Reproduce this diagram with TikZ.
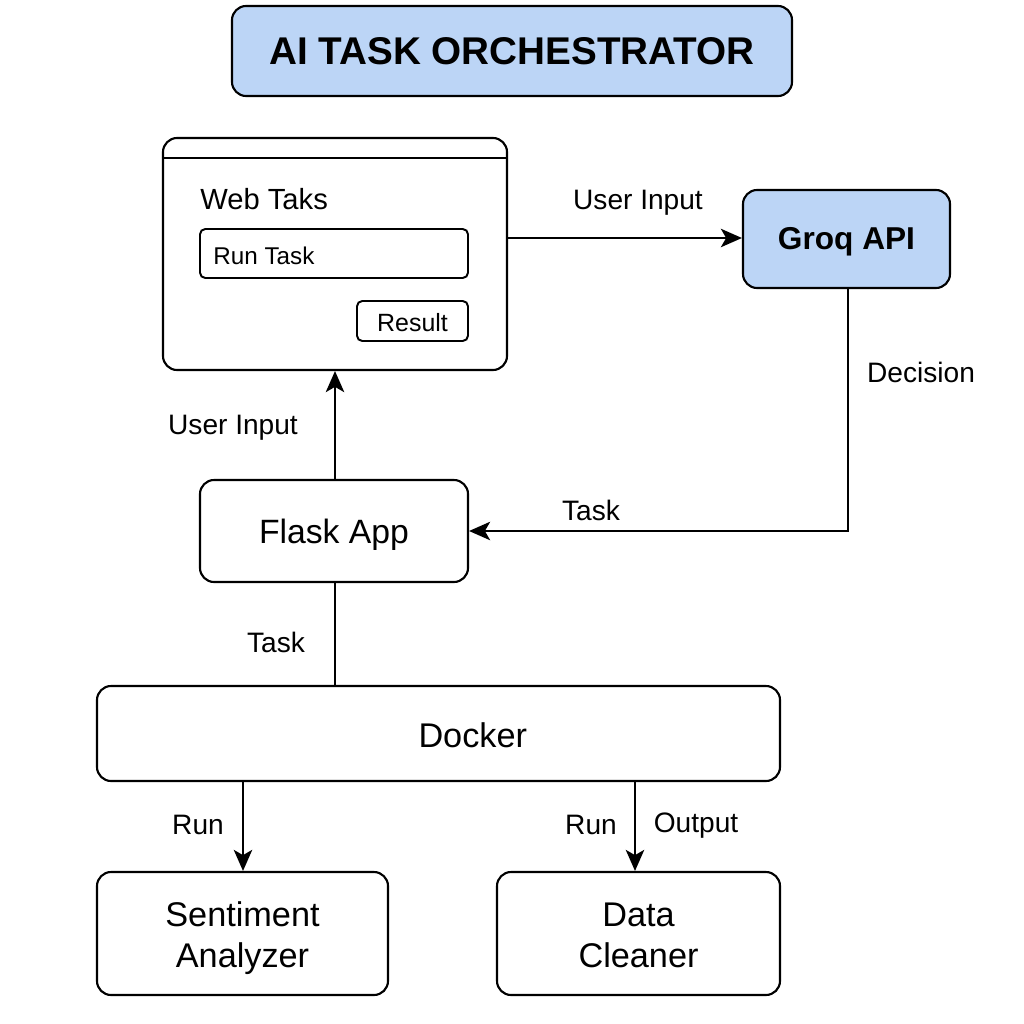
\documentclass[tikz,border=0pt]{standalone}
\usepackage{fontspec}
\setmainfont{Liberation Sans}
\usetikzlibrary{arrows.meta}
\definecolor{lblue}{HTML}{BCD5F6}
\def\u{0.02cm}
\newcommand{\shiftdn}[2]{\raisebox{-#1}[\height][\depth]{#2}}
\newcommand{\twolines}[2]{\shiftdn{3pt}{\setlength{\tabcolsep}{0pt}\begin{tabular}{c}#1\\#2\end{tabular}}}
\begin{document}
\begin{tikzpicture}[x=0.02cm,y=-0.02cm,
  box/.style={draw=black, line width=1.2pt, rounded corners=8pt, inner sep=0pt},
  smallbox/.style={draw=black, line width=1.1pt, rounded corners=3pt, inner sep=0pt},
  lbl/.style={font=\fontsize{16}{18}\selectfont, inner sep=0pt},
  conn/.style={line width=1.1pt},
  arr/.style={line width=1.1pt, -{Stealth[length=12pt,width=10.5pt,inset=3pt]}}]
\useasboundingbox (0,0) rectangle (1024,1024);
\fill[white] (0,0) rectangle (1024,1024);
% title
\node[box, fill=lblue, minimum width=560*\u, minimum height=90*\u, font=\fontsize{22}{26}\bfseries\selectfont] (title) at (512,51) {AI TASK ORCHESTRATOR};
% web
\node[box, minimum width=344*\u, minimum height=232*\u] (web) at (335,254) {};
\draw[line width=1.1pt] ([yshift=-21*\u]web.north west) -- ([yshift=-21*\u]web.north east);
\node[anchor=west, inner sep=0pt, font=\fontsize{16.6}{19}\selectfont] (webt) at (200,199) {Web Taks};
\node[smallbox, minimum width=268*\u, minimum height=49*\u] (runbox) at (334,253.5) {};
\node[anchor=west, inner sep=0pt, font=\fontsize{13.8}{16}\selectfont] (runt) at (213,256) {Run Task};
\node[smallbox, minimum width=111*\u, minimum height=40*\u, font=\fontsize{14.2}{16}\selectfont] (result) at (412.5,321) {\shiftdn{1pt}{Result}};
% groq
\node[box, fill=lblue, minimum width=207*\u, minimum height=98*\u, font=\fontsize{18}{21}\bfseries\selectfont] (groq) at (846.5,239) {\shiftdn{1.5pt}{Groq API}};
% flask
\node[box, minimum width=268*\u, minimum height=102*\u, font=\fontsize{19.2}{22}\selectfont] (flask) at (334,531) {\shiftdn{2pt}{Flask App}};
% docker
\node[box, minimum width=683*\u, minimum height=95*\u, font=\fontsize{19.5}{22}\selectfont] (docker) at (438.5,733.5) {\hspace*{39pt}\shiftdn{1pt}{Docker}};
% workers
\node[box, minimum width=291*\u, minimum height=123*\u, font=\fontsize{19.5}{23.5}\selectfont] (sent) at (242.5,933.5) {\twolines{Sentiment}{Analyzer}};
\node[box, minimum width=283*\u, minimum height=123*\u, font=\fontsize{19.5}{23.5}\selectfont] (clean) at (638.5,933.5) {\twolines{Data}{Cleaner}};
% connectors
\draw[arr] (web.east |- 0,238) -- (groq.west |- 0,238);
\node[lbl] (l1) at (638,203) {User Input};
\coordinate (turn) at (848,531);
\draw[arr] (groq.south -| 848,0) -- (turn) -- (flask.east |- turn);
\node[lbl] (l2) at (921,372) {Decision};
\node[lbl] (l3) at (591,510) {Task};
\draw[arr] (flask.north -| 335,0) -- (web.south -| 335,0);
\node[lbl] (l4) at (233,428) {User Input};
\draw[conn] (flask.south -| 335,0) -- (docker.north -| 335,0);
\node[lbl] (l5) at (276,642) {Task};
\draw[arr] (docker.south -| 243,0) -- (sent.north -| 243,0);
\node[lbl] (l6) at (198,825) {Run};
\draw[arr] (docker.south -| 635,0) -- (clean.north -| 635,0);
\node[lbl] (l7) at (591,825) {Run};
\node[lbl] (l8) at (696,826) {Output};
\end{tikzpicture}
\end{document}
